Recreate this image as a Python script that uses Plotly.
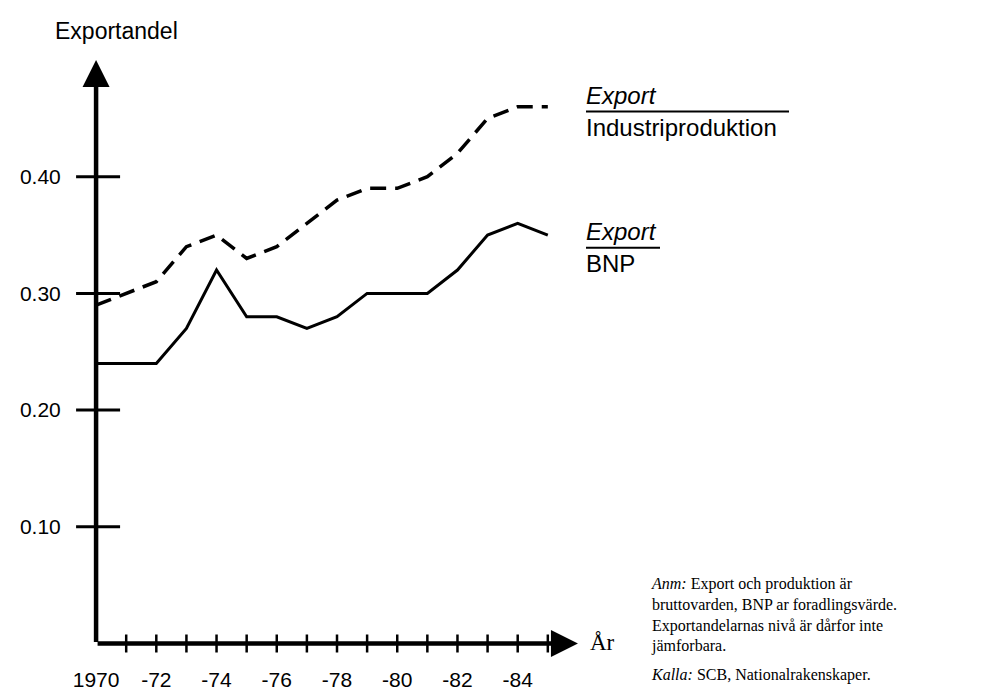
import plotly.graph_objects as go

# ---- data ----
years = list(range(1970, 1986))
export_bnp = [0.24, 0.24, 0.24, 0.27, 0.32, 0.28, 0.28, 0.27, 0.28, 0.30, 0.30, 0.30, 0.32, 0.35, 0.36, 0.35]
export_ind = [0.29, 0.30, 0.31, 0.34, 0.35, 0.33, 0.34, 0.36, 0.38, 0.39, 0.39, 0.40, 0.42, 0.45, 0.46, 0.46]
x_tick_vals = [1970, 1972, 1974, 1976, 1978, 1980, 1982, 1984]
x_tick_text = ["1970", "-72", "-74", "-76", "-78", "-80", "-82", "-84"]
x_minor_ticks = list(range(1971, 1986))
y_tick_vals = [0.10, 0.20, 0.30, 0.40]
y_tick_text = ["0.10", "0.20", "0.30", "0.40"]
note_lines = ["<i>Anm:</i> Export och produktion är",
              "bruttovarden, BNP ar foradlingsvärde.",
              "Exportandelarnas nivå är dårfor inte",
              "jämforbara."]
source_text = "<i>Kalla:</i> SCB, Nationalrakenskaper."

SANS = "Liberation Sans, Arial, sans-serif"
SERIF = "Liberation Serif, Times New Roman, serif"

W, H = 999, 695
ML, MR, MT = 67, 411, 52
X0, X1 = 1969.3, 1986.6
Y0, Y1 = -0.009, 0.5
PW = W - ML - MR
PH = 600 / 0.5 * (Y1 - Y0)
MB = H - MT - PH


def px(xp):
    return (xp - ML) / PW


def py(yp):
    return (MT + PH - yp) / PH


fig = go.Figure()
fig.add_trace(go.Scatter(x=years, y=export_ind, mode="lines",
                         line=dict(color="black", width=3.5, dash="16px,9px"),
                         showlegend=False, hoverinfo="skip"))
fig.add_trace(go.Scatter(x=years, y=export_bnp, mode="lines",
                         line=dict(color="black", width=3),
                         showlegend=False, hoverinfo="skip"))

fig.update_layout(
    width=W, height=H,
    margin=dict(l=ML, r=MR, t=MT, b=MB, pad=0),
    paper_bgcolor="white", plot_bgcolor="white",
    font=dict(family=SANS, color="black", size=21),
    xaxis=dict(range=[X0, X1], showgrid=False, zeroline=False, showline=False,
               tickvals=x_tick_vals, ticktext=x_tick_text, ticks="outside",
               ticklen=7, tickcolor="rgba(0,0,0,0)", tickfont=dict(size=21, family=SANS)),
    yaxis=dict(range=[Y0, Y1], showgrid=False, zeroline=False, showline=False,
               tickvals=y_tick_vals, ticktext=y_tick_text, ticks="outside",
               ticklen=9, tickcolor="rgba(0,0,0,0)", tickfont=dict(size=21, family=SANS)),
)

shapes = []
for yr in x_minor_ticks:
    shapes.append(dict(type="line", xref="x", yref="y", x0=yr, x1=yr,
                       ysizemode="pixel", yanchor=0, y0=-9, y1=9,
                       line=dict(color="black", width=2.5)))
for v in y_tick_vals:
    shapes.append(dict(type="line", xref="x", yref="y", y0=v, y1=v,
                       xsizemode="pixel", xanchor=1970, x0=-20, x1=24,
                       line=dict(color="black", width=3)))
# fraction bars of the series labels
shapes.append(dict(type="line", xref="paper", yref="paper", x0=px(578), x1=px(781), y0=py(105), y1=py(105),
                   line=dict(color="black", width=2)))
shapes.append(dict(type="line", xref="paper", yref="paper", x0=px(578), x1=px(652), y0=py(245), y1=py(245),
                   line=dict(color="black", width=2)))
fig.update_layout(shapes=shapes)

ann = []
# axes with arrows
ann.append(dict(x=1970, y=0.5, ax=1970, ay=0, xref="x", yref="y", axref="x", ayref="y",
                text="", showarrow=True, arrowhead=2, arrowsize=1.2, arrowwidth=4.5, arrowcolor="black"))
ann.append(dict(x=1986.0, y=0, ax=1970, ay=0, xref="x", yref="y", axref="x", ayref="y",
                text="", showarrow=True, arrowhead=2, arrowsize=1.2, arrowwidth=4.5, arrowcolor="black"))
ann.append(dict(x=px(108), y=py(22), xref="paper", yref="paper", text="Exportandel", showarrow=False,
                xanchor="center", yanchor="middle", font=dict(size=23, family=SANS)))
ann.append(dict(x=px(580), y=py(651), xref="paper", yref="paper", text="År", showarrow=False,
                xanchor="left", yanchor="middle", font=dict(size=23, family=SERIF)))
# series labels
ann.append(dict(x=px(576), y=py(88), xref="paper", yref="paper", text="<i>Export</i>", showarrow=False,
                xanchor="left", yanchor="middle", font=dict(size=24, family=SANS)))
ann.append(dict(x=px(576), y=py(121), xref="paper", yref="paper", text="Industriproduktion", showarrow=False,
                xanchor="left", yanchor="middle", font=dict(size=24, family=SANS)))
ann.append(dict(x=px(576), y=py(228), xref="paper", yref="paper", text="<i>Export</i>", showarrow=False,
                xanchor="left", yanchor="middle", font=dict(size=24, family=SANS)))
ann.append(dict(x=px(576), y=py(261), xref="paper", yref="paper", text="BNP", showarrow=False,
                xanchor="left", yanchor="middle", font=dict(size=24, family=SANS)))
# notes
ann.append(dict(x=px(641), y=py(623), xref="paper", yref="paper", text="<br>".join(note_lines),
                align="left", showarrow=False, xanchor="left", yanchor="middle",
                font=dict(size=16, family=SERIF)))
ann.append(dict(x=px(641), y=py(684), xref="paper", yref="paper", text=source_text,
                showarrow=False, xanchor="left", yanchor="middle", font=dict(size=16, family=SERIF)))
fig.update_layout(annotations=ann)

fig.write_html("out.html")
